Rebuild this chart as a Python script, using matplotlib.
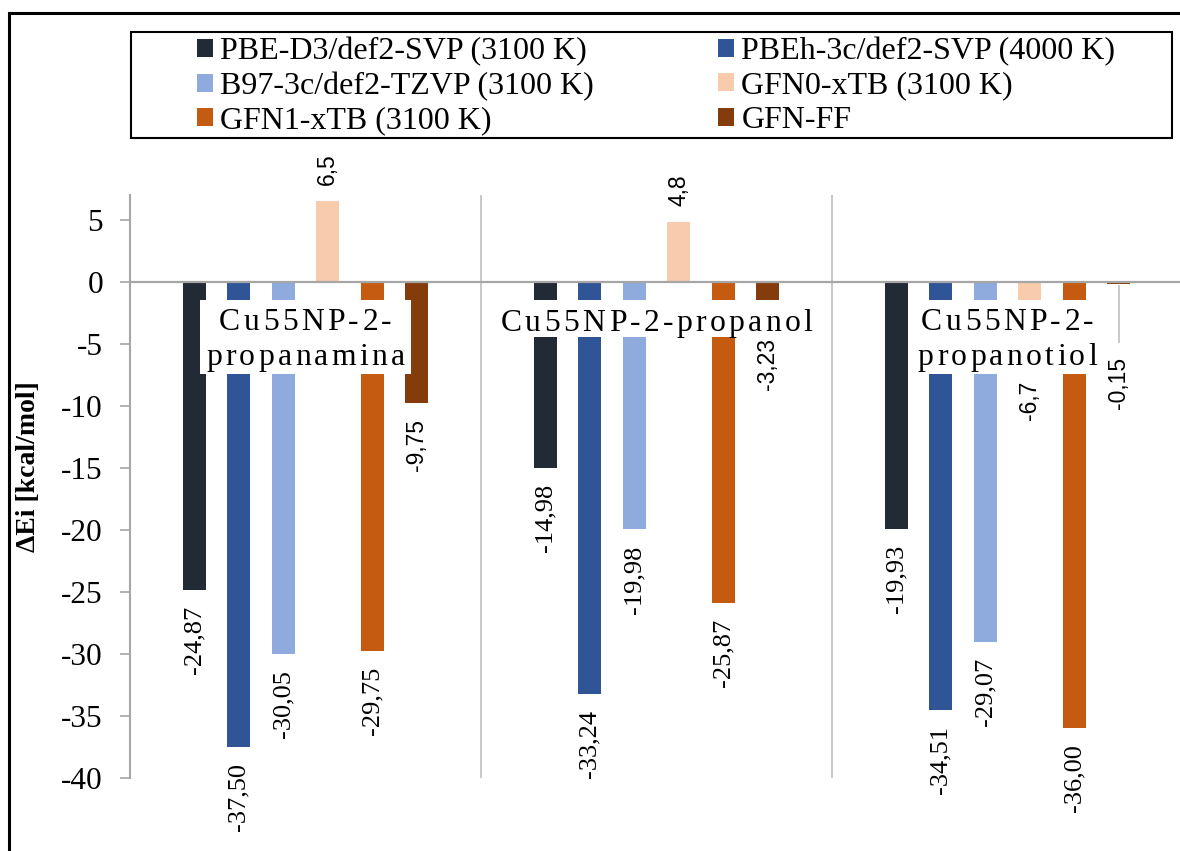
import matplotlib
matplotlib.use('Agg')
import matplotlib.pyplot as plt
from matplotlib.patches import Rectangle
from matplotlib.font_manager import FontProperties
from matplotlib.textpath import text_to_path
from matplotlib import transforms

plt.rcParams['axes.unicode_minus'] = False

categories = ['Cu55NP-2-propanamina', 'Cu55NP-2-propanol', 'Cu55NP-2-propanotiol']
cat_lines = [['Cu55NP-2-', 'propanamina'], ['Cu55NP-2-propanol'], ['Cu55NP-2-', 'propanotiol']]

series = ['PBE-D3/def2-SVP (3100 K)', 'PBEh-3c/def2-SVP (4000 K)', 'B97-3c/def2-TZVP (3100 K)',
          'GFN0-xTB (3100 K)', 'GFN1-xTB (3100 K)', 'GFN-FF']
colors = ['#222a35', '#2f5597', '#8faadc', '#f8cbad', '#c55a11', '#843c0c']

pbe_d3 = [-24.87, -14.98, -19.93]
pbeh_3c = [-37.50, -33.24, -34.51]
b97_3c = [-30.05, -19.98, -29.07]
gfn0 = [6.5, 4.8, -6.7]
gfn1 = [-29.75, -25.87, -36.00]
gfn_ff = [-9.75, -3.23, -0.15]
values = [pbe_d3, pbeh_3c, b97_3c, gfn0, gfn1, gfn_ff]

label_texts = [
    ['-24,87', '-14,98', '-19,93'],
    ['-37,50', '-33,24', '-34,51'],
    ['-30,05', '-19,98', '-29,07'],
    ['6,5', '4,8', '-6,7'],
    ['-29,75', '-25,87', '-36,00'],
    ['-9,75', '-3,23', '-0,15'],
]
sans_series = [3, 5]

W, H = 1180, 851
SERIF = 'Liberation Serif'
SANS = 'Liberation Sans'
GRAY = '#a6a6a6'

fig = plt.figure(figsize=(W / 100, H / 100), dpi=100)
ax_left, ax_top, ax_bottom = 130, 195, 777.7
ax = fig.add_axes([ax_left / W, 1 - ax_bottom / H, (W - ax_left) / W, (ax_bottom - ax_top) / H])
cat_px = 351
ax.set_xlim(-0.5, -0.5 + (W - ax_left) / cat_px)
ax.set_ylim(-40, 7)

step = 0.1265
bar_w = 0.0655
for k, vals in enumerate(values):
    xs = [i + (k - 2.5) * step for i in range(len(categories))]
    ax.bar(xs, vals, width=bar_w, color=colors[k], zorder=2, label=series[k])
    for i, (x, v) in enumerate(zip(xs, vals)):
        if k in sans_series:
            fam, fs = SANS, 16.5
        else:
            fam, fs = SERIF, 19
        txt = label_texts[k][i]
        if k == 5 and i == 2:
            # label moved below the category box, with leader line
            ax.plot([x, x], [-0.3, -4.85], color='#bfbfbf', lw=1.2, zorder=1)
            ax.annotate(txt, (x, -6.05), ha='center', va='top', rotation=90,
                        family=fam, fontsize=fs)
        elif v < 0:
            ax.annotate(txt, (x, v), xytext=(0, -11.5), textcoords='offset points',
                        ha='center', va='top', rotation=90, family=fam, fontsize=fs)
        else:
            ax.annotate(txt, (x, v), xytext=(0, 11.5), textcoords='offset points',
                        ha='center', va='bottom', rotation=90, family=fam, fontsize=fs)

# axes styling
for s in ['top', 'right', 'bottom']:
    ax.spines[s].set_visible(False)
ax.spines['left'].set_color(GRAY)
ax.spines['left'].set_linewidth(1.5)
ax.axhline(0, color=GRAY, lw=1.6, zorder=3)
for xb in [0.5, 1.5, 2.5]:
    ax.axvline(xb, color='#bfbfbf', lw=1.2, zorder=1)
ax.set_xticks([])
ax.set_yticks(range(-40, 6, 5))
ax.tick_params(axis='y', colors=GRAY, length=7.5, width=1.2, pad=12, labelcolor='black')
for t in ax.get_yticklabels():
    t.set_family(SERIF)
    t.set_fontsize(22.5)
ax.set_ylabel('ΔEi [kcal/mol]', family=SERIF, fontsize=20, fontweight='bold')
ax.yaxis.set_label_coords(41 / W, 1 - 467 / H, transform=fig.transFigure)

# category labels, letter spaced, on white boxes
cat_fs = 22.8
spacing_pt = 2.4
prop = FontProperties(family=SERIF, size=cat_fs)


def spaced_line(x, y, s):
    widths = [text_to_path.get_text_width_height_descent(c, prop, ismath=False)[0] for c in s]
    total = sum(widths) + spacing_pt * (len(s) - 1)
    off = -total / 2
    for c, w in zip(s, widths):
        tr = transforms.offset_copy(ax.transData, fig=fig, x=off, y=0, units='points')
        ax.text(x, y, c, transform=tr, fontproperties=prop, ha='left', va='baseline', zorder=6)
        off += w + spacing_pt
    return total


baselines = {1: [-3.95], 2: [-3.9, -6.75]}
for i, lines in enumerate(cat_lines):
    ys = baselines[len(lines)]
    widest = 0
    for line, y in zip(lines, ys):
        widest = max(widest, spaced_line(i, y, line))
    half = (widest * 100 / 72 / 2 + 6) / cat_px
    bottom = -4.45 if len(lines) == 1 else -7.45
    ax.add_patch(Rectangle((i - half, bottom), 2 * half, -1.45 - bottom,
                           facecolor='white', edgecolor='none', zorder=5))

# legend
handles, labels = ax.get_legend_handles_labels()
order = [0, 2, 4, 1, 3, 5]
leg = fig.legend([handles[j] for j in order], [labels[j] for j in order], ncol=2,
                 loc='upper left', bbox_to_anchor=(197 / W, 1 - 37 / H), frameon=False,
                 borderpad=0, borderaxespad=0, handlelength=0.5, handleheight=0.5,
                 handletextpad=0.22, columnspacing=3.9, labelspacing=0.17,
                 prop={'family': SERIF, 'size': 23})
fig.patches.append(Rectangle((131 / W, 1 - 138 / H), (1172 - 131) / W, (138 - 32) / H,
                             transform=fig.transFigure, fill=False, edgecolor='black', lw=1.5))
fig.patches.append(Rectangle((8.5 / W, -0.1), 1.2, 1.1 - 13 / H,
                             transform=fig.transFigure, fill=False, edgecolor='black', lw=2.2))

fig.savefig('out.png', dpi=100)
